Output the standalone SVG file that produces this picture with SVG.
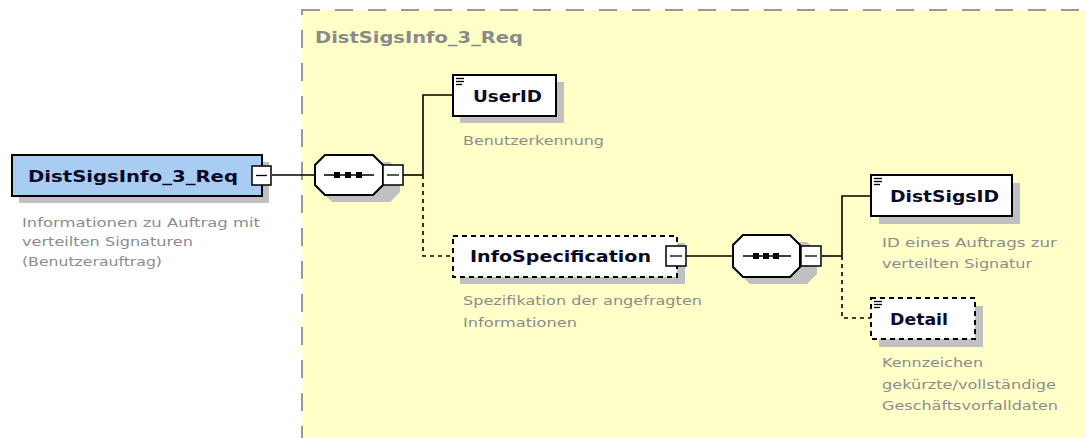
<svg xmlns="http://www.w3.org/2000/svg" width="1086" height="438" viewBox="0 0 1086 438">
<style>
.lbl{font-family:"DejaVu Sans","Liberation Sans",sans-serif;font-weight:bold;font-size:16px;fill:#0a0a28}
.desc{font-family:"DejaVu Sans","Liberation Sans",sans-serif;font-size:12.5px;fill:#8c8c8c}
.title{font-family:"DejaVu Sans","Liberation Sans",sans-serif;font-weight:bold;font-size:16px;fill:#8a8a8a}
.box{fill:#fff;stroke:#000;stroke-width:2}
.dbox{fill:#fff;stroke:#000;stroke-width:2;stroke-dasharray:5 4}
.sh{fill:#c0c0c0}
.ln{fill:none;stroke:#000;stroke-width:1.6}
.dl{fill:none;stroke:#000;stroke-width:1.6;stroke-dasharray:4 4}
.mb{fill:#fff;stroke:#000;stroke-width:1.5}
.ic{stroke:#000;stroke-width:1.3}
</style>
<rect x="0" y="0" width="1086" height="438" fill="#fff"/>
<g id="container">
<rect x="302" y="10" width="800" height="440" fill="#ffffc8" stroke="#999" stroke-width="2" stroke-dasharray="18 15"/>
<text class="title" x="315" y="43" textLength="208" lengthAdjust="spacingAndGlyphs">DistSigsInfo_3_Req</text>
</g>
<g id="connectors">
<line class="ln" x1="272" y1="175" x2="315" y2="175"/>
<line class="ln" x1="403" y1="175" x2="423" y2="175"/>
<polyline class="ln" points="423,175 423,95 453,95"/>
<polyline class="dl" points="423,175 423,256 453,256"/>
<line class="ln" x1="686" y1="256" x2="733" y2="256"/>
<line class="ln" x1="822" y1="256" x2="842" y2="256"/>
<polyline class="ln" points="842,256 842,196 871,196"/>
<polyline class="dl" points="842,256 842,318 871,318"/>
</g>
<g id="root">
<rect class="sh" x="19" y="162" width="250" height="41"/>
<rect x="12" y="155" width="250" height="41" fill="#a9cdf2" stroke="#000" stroke-width="2"/>
<text class="lbl" x="28" y="182" textLength="210" lengthAdjust="spacingAndGlyphs">DistSigsInfo_3_Req</text>
<rect class="mb" x="252" y="166" width="19" height="19"/>
<line class="ic" x1="256" y1="175.5" x2="267" y2="175.5"/>
<text class="desc" x="22" y="227" textLength="238" lengthAdjust="spacingAndGlyphs">Informationen zu Auftrag mit</text>
<text class="desc" x="22" y="246" textLength="171" lengthAdjust="spacingAndGlyphs">verteilten Signaturen</text>
<text class="desc" x="22" y="266" textLength="140" lengthAdjust="spacingAndGlyphs">(Benutzerauftrag)</text>
</g>
<g id="seq1">
<polygon class="sh" points="332,162 390,162 400,172 400,192 390,202 332,202 322,192 322,172"/>
<polygon points="325,155 373,155 383,165 383,185 373,195 325,195 315,185 315,165" fill="#fff" stroke="#000" stroke-width="2"/>
<line class="ic" x1="324" y1="175" x2="374" y2="175"/>
<rect x="334" y="172" width="6" height="6"/><rect x="345" y="172" width="6" height="6"/><rect x="356" y="172" width="6" height="6"/>
<rect class="mb" x="383" y="165" width="20" height="20"/>
<line class="ic" x1="387" y1="175" x2="399" y2="175"/>
</g>
<g id="userid">
<rect class="sh" x="460" y="82" width="104" height="41"/>
<rect class="box" x="453" y="75" width="103" height="41"/>
<line class="ic" x1="456" y1="78.5" x2="464" y2="78.5"/><line class="ic" x1="456" y1="81.5" x2="464" y2="81.5"/><line class="ic" x1="456" y1="84.5" x2="462" y2="84.5"/>
<text class="lbl" x="473" y="102" textLength="69" lengthAdjust="spacingAndGlyphs">UserID</text>
<text class="desc" x="463" y="145" textLength="141" lengthAdjust="spacingAndGlyphs">Benutzerkennung</text>
</g>
<g id="infospec">
<rect class="sh" x="460" y="243" width="225" height="41"/>
<rect class="dbox" x="453" y="236" width="224" height="41"/>
<text class="lbl" x="470" y="262" textLength="181" lengthAdjust="spacingAndGlyphs">InfoSpecification</text>
<rect class="mb" x="666" y="246" width="20" height="20"/>
<line class="ic" x1="670" y1="256" x2="682" y2="256"/>
<text class="desc" x="463" y="305" textLength="239" lengthAdjust="spacingAndGlyphs">Spezifikation der angefragten</text>
<text class="desc" x="463" y="327" textLength="114" lengthAdjust="spacingAndGlyphs">Informationen</text>
</g>
<g id="seq2">
<polygon class="sh" points="750,242 807,242 817,252 817,274 807,284 750,284 740,274 740,252"/>
<polygon points="743,235 790,235 800,245 800,267 790,277 743,277 733,267 733,245" fill="#fff" stroke="#000" stroke-width="2"/>
<line class="ic" x1="743" y1="256" x2="791" y2="256"/>
<rect x="753" y="253" width="6" height="6"/><rect x="763" y="253" width="6" height="6"/><rect x="773" y="253" width="6" height="6"/>
<rect class="mb" x="801" y="246" width="20" height="20"/>
<line class="ic" x1="805" y1="256" x2="817" y2="256"/>
</g>
<g id="distsigsid">
<rect class="sh" x="879" y="183" width="141" height="41"/>
<rect class="box" x="871" y="175" width="141" height="41"/>
<line class="ic" x1="874" y1="178.5" x2="882" y2="178.5"/><line class="ic" x1="874" y1="181.5" x2="882" y2="181.5"/><line class="ic" x1="874" y1="184.5" x2="880" y2="184.5"/>
<text class="lbl" x="890" y="202" textLength="109" lengthAdjust="spacingAndGlyphs">DistSigsID</text>
<text class="desc" x="882" y="247" textLength="175" lengthAdjust="spacingAndGlyphs">ID eines Auftrags zur</text>
<text class="desc" x="882" y="268" textLength="150" lengthAdjust="spacingAndGlyphs">verteilten Signatur</text>
</g>
<g id="detail">
<rect class="sh" x="879" y="306" width="104" height="41"/>
<rect class="dbox" x="871" y="298" width="104" height="41"/>
<line class="ic" x1="874" y1="301.5" x2="882" y2="301.5"/><line class="ic" x1="874" y1="304.5" x2="882" y2="304.5"/><line class="ic" x1="874" y1="307.5" x2="880" y2="307.5"/>
<text class="lbl" x="890" y="325" textLength="58" lengthAdjust="spacingAndGlyphs">Detail</text>
<text class="desc" x="882" y="367" textLength="101" lengthAdjust="spacingAndGlyphs">Kennzeichen</text>
<text class="desc" x="882" y="389" textLength="174" lengthAdjust="spacingAndGlyphs">gekürzte/vollständige</text>
<text class="desc" x="882" y="410" textLength="176" lengthAdjust="spacingAndGlyphs">Geschäftsvorfalldaten</text>
</g>
</svg>
